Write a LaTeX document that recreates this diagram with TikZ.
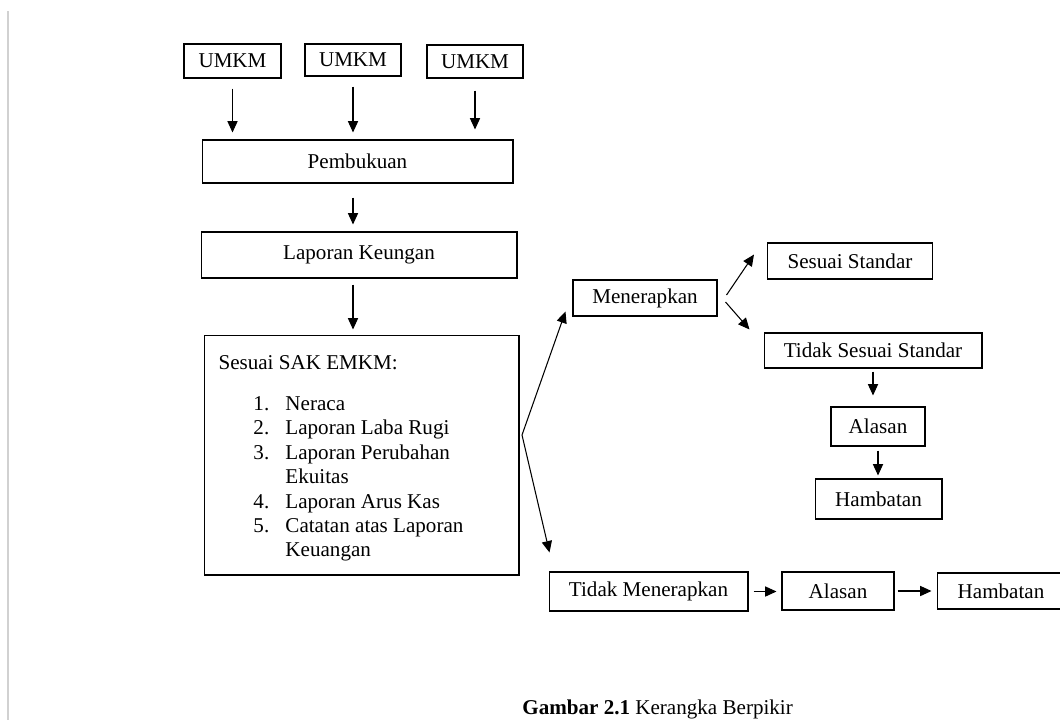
\documentclass[tikz,border=0pt]{standalone}
\usepackage{fontspec}
\setmainfont{Liberation Serif}
\usepackage{tikz}
\usetikzlibrary{arrows.meta,positioning}

\begin{document}
\begin{tikzpicture}[
  x=0.02cm, y=-0.02cm,
  font=\fontsize{12pt}{13.9pt}\selectfont,
  box/.style={draw, line width=0.6pt, inner sep=0pt},
  listbox/.style={draw, line width=0.6pt, inner sep=0pt, align=flush left, text width=5.72cm, minimum width=6.3cm, minimum height=4.8cm},
  line/.style={-{Triangle[length=6.5pt,width=5.8pt]}, line width=0.6pt}
]
\useasboundingbox[fill=white] (0,0) rectangle (1060,720);
\draw[line width=1.1pt, black!18] (8,11) -- (8,720);

\node[box, minimum width=1.94cm, minimum height=0.68cm] (umkma) at (232.5,61) {UMKM};
\node[box, minimum width=1.92cm, minimum height=0.64cm] (umkmb) at (353,60) {UMKM};
\node[box, minimum width=1.92cm, minimum height=0.66cm] (umkmc) at (475,61.5) {UMKM};
\node[box, minimum width=6.22cm, minimum height=0.86cm] (buku) at (357.5,161.5) {Pembukuan};
\node[box, minimum width=6.32cm, minimum height=0.92cm] (lapkeu) at (359,255) {Laporan Keungan};
\node[listbox] (sak) at (361.5,455) {\rule{0pt}{11.8pt}Sesuai SAK EMKM:\\[9.5pt]
\hspace*{19.9pt}\makebox[18.2pt][l]{1.}Neraca\\
\hspace*{19.9pt}\makebox[18.2pt][l]{2.}Laporan Laba Rugi\\
\hspace*{19.9pt}\makebox[18.2pt][l]{3.}Laporan Perubahan\\
\hspace*{38.1pt}Ekuitas\\
\hspace*{19.9pt}\makebox[18.2pt][l]{4.}Laporan Arus Kas\\
\hspace*{19.9pt}\makebox[18.2pt][l]{5.}Catatan atas Laporan\\
\hspace*{38.1pt}Keuangan};
\coordinate (fork) at (522,435);

\node[box, minimum width=2.88cm, minimum height=0.72cm] (terap) at (645,298) {Menerapkan};
\node[box, minimum width=3.3cm, minimum height=0.72cm] (sesuai) at (850,261) {Sesuai Standar};
\node[box, minimum width=4.36cm, minimum height=0.7cm] (tidaksesuai) at (873,350.5) {Tidak Sesuai Standar};
\node[box, minimum width=1.88cm, minimum height=0.78cm] (alasana) at (878,426.5) {Alasan};
\node[box, minimum width=2.54cm, minimum height=0.8cm] (hambata) at (878.5,499) {Hambatan};

\node[box, minimum width=3.98cm, minimum height=0.78cm] (tidakterap) at (648.5,591.5) {Tidak Menerapkan};
\node[box, minimum width=2.24cm, minimum height=0.76cm] (alasanb) at (838,591) {Alasan};
\node[box, minimum width=2.56cm, minimum height=0.72cm] (hambatb) at (1001,591) {Hambatan};

\node[anchor=base west, inner sep=0pt] (judul) at (522,714) {\textbf{Gambar 2.1} Kerangka Berpikir};

\draw[line, shorten <=0.2cm, shorten >=0.14cm] (umkma.south) -- (umkma.south |- buku.north);
\draw[line, shorten <=0.2cm, shorten >=0.14cm] (umkmb.south) -- (umkmb.south |- buku.north);
\draw[line, shorten <=0.24cm, shorten >=0.2cm] (umkmc.south |- umkma.south) -- (umkmc.south |- buku.north);
\draw[line, shorten <=0.28cm, shorten >=0.14cm] (buku.south -| umkmb) -- (lapkeu.north -| umkmb);
\draw[line, shorten <=0.12cm, shorten >=0.1cm] (lapkeu.south -| umkmb) -- (sak.north -| umkmb);
\draw[line] (fork) -- ([shift={(-7,-5)}]terap.south west);
\draw[line] (fork) -- ([shift={(1,-19)}]tidakterap.north west);
\draw[line] ([shift={(9,-3)}]terap.east) -- ([shift={(-13,-25)}]sesuai.south west);
\draw[line] ([shift={(8,4)}]terap.east) -- ([shift={(-14,-3)}]tidaksesuai.north west);
\draw[line, shorten <=0.06cm, shorten >=0.22cm] (tidaksesuai.south) -- (tidaksesuai.south |- alasana.north);
\draw[line, shorten <=0.08cm, shorten >=0.06cm] (alasana.south) -- (alasana.south |- hambata.north);
\draw[line, shorten <=0.1cm, shorten >=0.1cm] (tidakterap.east) -- (tidakterap.east -| alasanb.west);
\draw[line, shorten <=0.06cm, shorten >=0.1cm] (alasanb.east) -- (alasanb.east -| hambatb.west);
\end{tikzpicture}
\end{document}
